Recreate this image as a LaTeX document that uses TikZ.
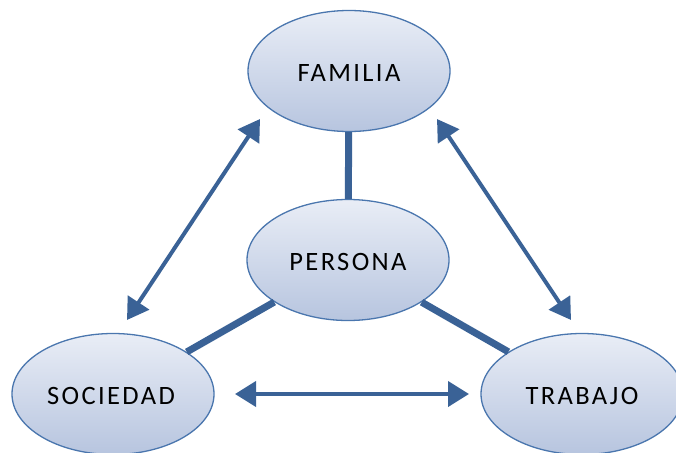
\documentclass[tikz,border=0pt]{standalone}
\usepackage{fontspec}
\newfontfamily\lblfont[LetterSpace=9]{Carlito}
\usetikzlibrary{arrows.meta,shapes.geometric}
\definecolor{linkblue}{HTML}{3A6296}
\definecolor{rimblue}{HTML}{4A76AE}
\definecolor{filltop}{HTML}{E9EDF6}
\definecolor{fillbot}{HTML}{B7C5DF}
\tikzset{
  bubble/.style={ellipse, draw=rimblue, line width=1.3pt,
    top color=filltop, bottom color=fillbot,
    minimum width=202pt, minimum height=121pt, inner sep=0pt,
    font=\lblfont\fontsize{26.5}{30}\selectfont},
  caption/.style={font=\lblfont\fontsize{26.5}{30}\selectfont, inner sep=0pt},
  bond/.style={draw=linkblue, line width=7pt},
  twoway/.style={draw=linkblue, line width=4pt,
    {Triangle[length=21pt,width=25pt]}-{Triangle[length=21pt,width=25pt]}}
}
\begin{document}
\begin{tikzpicture}[x=1pt,y=-1pt]
  \useasboundingbox (0,0) rectangle (676,452);

  % the four concepts
  \node[bubble] (familia)  at (349,71)  {};
  \node[bubble] (persona)  at (348,260) {};
  \node[bubble] (sociedad) at (113,394) {};
  \node[bubble] (trabajo)  at (582,394) {};

  % their names, set a little below the centre
  \node[caption] (tfam) at ([yshift=-2pt]familia.center)  {FAMILIA};
  \node[caption] (tper) at ([yshift=-2pt]persona.center)  {PERSONA};
  \node[caption] (tsoc) at ([yshift=-2pt,xshift=-2pt]sociedad.center) {SOCIEDAD};
  \node[caption] (ttra) at ([yshift=-2pt]trabajo.center)  {TRABAJO};

  % links from the person to each sphere
  \draw[bond] (persona) -- (familia);
  \draw[bond] (persona) -- (sociedad);
  \draw[bond] (persona) -- (trabajo);

  % ends of the mutual-influence arrows
  \coordinate (fl) at (260,119);
  \coordinate (sl) at (127,320);
  \coordinate (fr) at (437,119);
  \coordinate (tr) at (571,320);
  \coordinate (sb) at (235,394);
  \coordinate (tb) at (469,394);

  \draw[twoway] (sl) -- (fl);
  \draw[twoway] (fr) -- (tr);
  \draw[twoway] (sb) -- (tb);
\end{tikzpicture}
\end{document}
